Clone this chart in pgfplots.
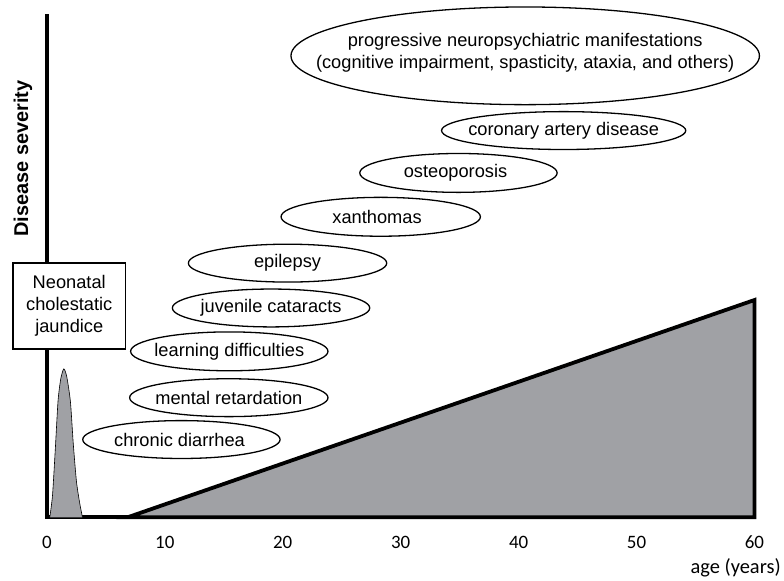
\documentclass[border=0pt]{standalone}
\usepackage{fontspec}
\setmainfont{Liberation Sans}
\newfontfamily\carlito{Carlito}
\usepackage{pgfplots}
\pgfplotsset{compat=1.18}
\definecolor{fillgray}{RGB}{160,161,165}
\tikzset{
  ellip/.style={draw=black, line width=1.3pt, fill=white},
  etext/.style={align=center, inner sep=0pt, font=\fontsize{18.3}{21.5}\selectfont}
}
\begin{document}
\begin{tikzpicture}
\begin{axis}[
  x=11.833pt, y=1pt,
  scale only axis,
  xmin=0, xmax=60, ymin=0, ymax=503,
  axis x line=bottom, axis y line=left,
  axis line style={-, line width=3.8pt, line cap=rect},
  xtick={0,10,...,60}, ytick=\empty,
  major tick length=0pt,
  /pgf/number format/assume math mode=true,
  xticklabel style={font=\carlito\fontsize{19}{19}\selectfont, anchor=center, yshift=-25pt},
  clip=false,
]
% bounding box
\path (axis cs:-3.972,-61) rectangle (axis cs:62.28,519);
% neonatal peak
\addplot[fill=fillgray, draw=black, line width=0.6pt, smooth, tension=0.4] coordinates {
 (0.25,0) (0.48,22) (0.72,69) (0.95,117) (1.18,139) (1.44,149) (1.69,141) (2.0,116) (2.24,74) (2.51,36) (2.79,14) (3.02,0)
};
% progressive region
\addplot[fill=fillgray, draw=black, line width=3.8pt, line join=miter] coordinates {
 (6.85,0) (60,218) (60,0)
} -- cycle;
% ellipses
\draw[ellip] (axis cs:40.56,463) ellipse [x radius=235pt, y radius=49pt];
\draw[ellip] (axis cs:43.82,388) ellipse [x radius=122.5pt, y radius=19pt];
\draw[ellip] (axis cs:34.90,345.5) ellipse [x radius=99pt, y radius=19.5pt];
\draw[ellip] (axis cs:28.31,301.5) ellipse [x radius=100pt, y radius=19.5pt];
\draw[ellip] (axis cs:20.41,255) ellipse [x radius=99.5pt, y radius=19pt];
\draw[ellip] (axis cs:19.01,210) ellipse [x radius=99pt, y radius=19pt];
\draw[ellip] (axis cs:15.47,166.5) ellipse [x radius=99pt, y radius=19.5pt];
\draw[ellip] (axis cs:15.43,120) ellipse [x radius=99.5pt, y radius=19pt];
\draw[ellip] (axis cs:11.41,78) ellipse [x radius=99pt, y radius=19pt];
% texts
\node[etext] at (axis cs:40.56,466) {progressive neuropsychiatric manifestations\\(cognitive impairment, spasticity, ataxia, and others)};
\node[etext] at (axis cs:43.82,388) {coronary artery disease};
\node[etext] at (axis cs:34.65,345.5) {osteoporosis};
\node[etext] at (axis cs:28.0,301.5) {xanthomas};
\node[etext] at (axis cs:20.41,255) {epilepsy};
\node[etext] at (axis cs:19.01,210) {juvenile cataracts};
\node[etext] at (axis cs:15.47,166.5) {learning difficulties};
\node[etext] at (axis cs:15.43,120) {mental retardation};
\node[etext] at (axis cs:11.25,78) {chronic diarrhea};
\node[draw=black, line width=1.5pt, fill=white, minimum width=113pt, minimum height=86pt, inner sep=0pt, align=center, font=\fontsize{18.3}{22}\selectfont] at (axis cs:1.90,212) {Neonatal\\cholestatic\\jaundice};
\node[rotate=90, font=\bfseries\fontsize{20}{20}\selectfont] at (axis cs:-2.03,360) {Disease severity};
\node[font=\carlito\fontsize{20.5}{20.5}\selectfont] at (axis cs:58.4,-51) {age (years)};
\end{axis}
\end{tikzpicture}
\end{document}
